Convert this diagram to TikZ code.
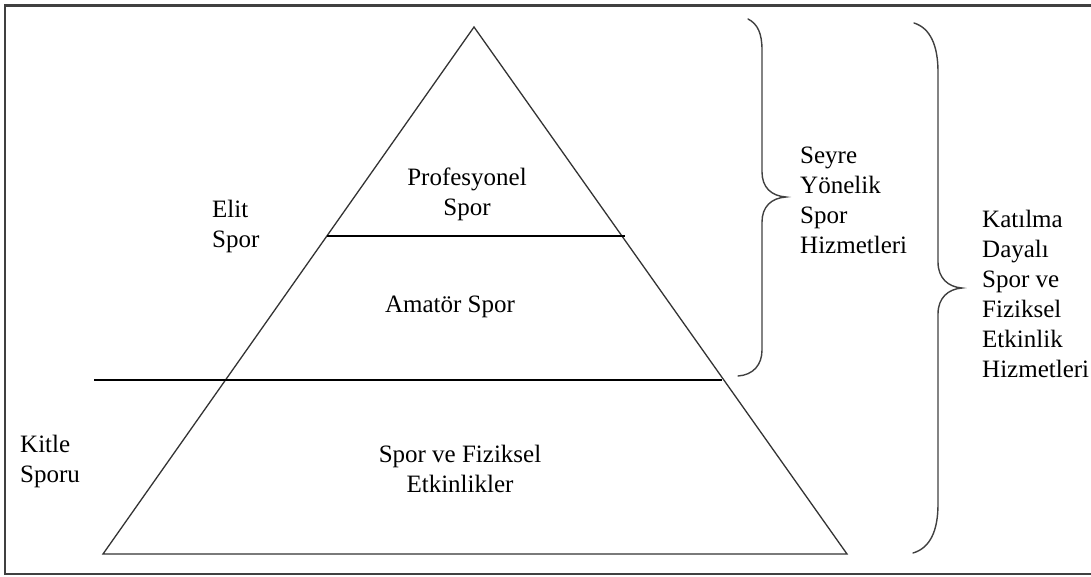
\documentclass[tikz,border=0pt]{standalone}
\usepackage{fontspec}
\setmainfont{Liberation Serif}
\tikzset{
  lbl/.style={font=\fontsize{25}{30}\selectfont, inner sep=0pt, align=left, anchor=base west},
  ctr/.style={font=\fontsize{25}{30}\selectfont, inner sep=0pt, align=center, anchor=base},
  sideline/.style={draw=black!80, line width=1.3pt, line join=miter},
  divider/.style={draw=black, line width=1.6pt},
  bracepath/.style={draw=black!75, line width=1.4pt, line cap=round},
  frame/.style={draw=black!75, line width=2.2pt}
}
\begin{document}
\begin{tikzpicture}[x=1pt, y=-1pt]
  \useasboundingbox (0,0) rectangle (1091,576);
  \clip (0,0) rectangle (1091,576);
  \draw[frame] (5,5.5) rectangle (1110,574);

  % pyramid
  \coordinate (apex) at (474,27);
  \coordinate (bl) at (103,554);
  \coordinate (br) at (847,554);
  \draw[sideline] (apex) -- (bl) -- (br) -- cycle;

  \coordinate (d1l) at (327,236);
  \coordinate (d1r) at (625,236);
  \draw[divider] (d1l) -- (d1r);
  \coordinate (d2l) at (94,380);
  \coordinate (d2r) at (722,380);
  \draw[divider] (d2l) -- (d2r);

  % braces
  \draw[bracepath] (748,19) .. controls (758,24) and (762,34) .. (762,50)
     -- (762,172) .. controls (762,187) and (771,196) .. (786,197)
     .. controls (771,198) and (762,207) .. (762,222)
     -- (762,350) .. controls (762,365) and (753,375) .. (738,376);
  \draw[bracepath] (914,23) .. controls (930,28) and (938,45) .. (938,72)
     -- (938,262) .. controls (938,278) and (948,287) .. (962,288)
     .. controls (948,289) and (938,298) .. (938,314)
     -- (938,504) .. controls (938,531) and (930,548) .. (913,553);

  % labels (anchored at the baseline of their last line)
  \node[ctr] (prof) at (467,215) {Profesyonel\\Spor};
  \node[ctr] (amat) at (450,312) {Amatör Spor};
  \node[ctr] (kitleact) at (460,492) {Spor ve Fiziksel\\Etkinlikler};
  \node[lbl] (elit) at (212,247) {Elit\\Spor};
  \node[lbl] (kitle) at (20,482) {Kitle\\Sporu};
  \node[lbl] (seyre) at (800,253) {Seyre\\Yönelik\\Spor\\Hizmetleri};
  \node[lbl] (katil) at (982,377) {Katılma\\Dayalı\\Spor ve\\Fiziksel\\Etkinlik\\Hizmetleri};
\end{tikzpicture}
\end{document}
